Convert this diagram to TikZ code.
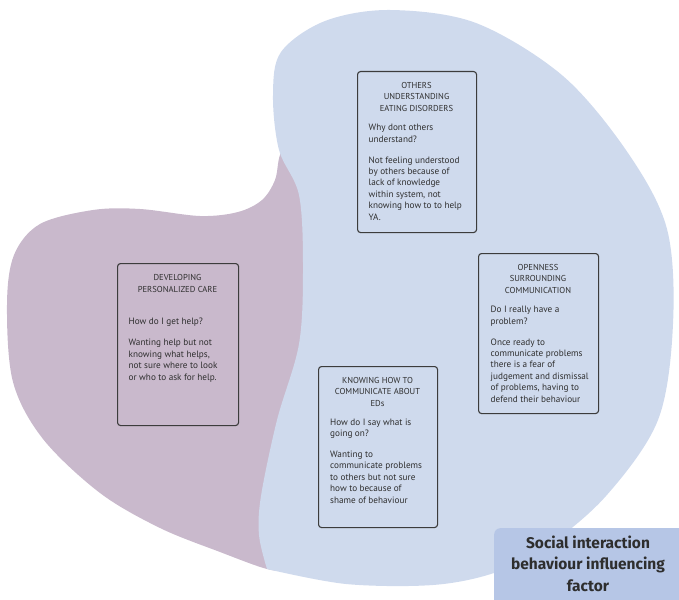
\documentclass[tikz,border=0pt]{standalone}
\usepackage{fontspec}
\setmainfont{PT Sans}
\newfontfamily\tagfont{Fira Sans}
\definecolor{blobblue}{HTML}{CFDAED}
\definecolor{blobmauve}{HTML}{C9B9CC}
\definecolor{tagblue}{HTML}{B6C6E6}
\definecolor{ink}{HTML}{2E2E2E}
\definecolor{edge}{HTML}{3C3C3C}
\begin{document}
\begin{tikzpicture}[x=1pt,y=-1pt,
  card/.style={draw=edge, line width=1.1pt, rounded corners=3pt, inner sep=0, anchor=north west},
  cardtitle/.style={font=\fontsize{8.6}{11.4}\selectfont, text=ink, align=center, inner sep=0, anchor=base},
  cardbody/.style={font=\fontsize{9.2}{11.4}\selectfont, text=ink, align=left, inner sep=0, anchor=base west},
  tagbox/.style={fill=tagblue, rounded corners=6pt, inner sep=0, anchor=north west, minimum width=200pt, minimum height=90pt},
  tagtext/.style={font=\tagfont\bfseries\fontsize{15.5}{21.5}\selectfont, text=ink, align=center, inner sep=0, anchor=base},
]
\useasboundingbox (0,0) rectangle (679,599);

% mauve region on the left, partly hidden by the blue one
\fill[blobmauve] plot[smooth cycle, tension=0.55] coordinates {
  (93,210) (140,209) (200,216) (238,212) (262,200) (275,180) (280,155)
  (292,135) (322,210) (326,330) (312,450) (296,560) (290,570) (267,569)
  (220,552) (160,528) (100,493) (43,439) (13,382) (7,305) (14,255) (40,224)};

% blue region, with a sharp corner where it meets the mauve one at the bottom
\fill[blobblue] plot[smooth, tension=0.55] coordinates {
  (267,569) (346,584) (433,585) (494,573) (545,548) (606,496) (658,420)
  (673,324) (667,229) (628,153) (563,76) (476,23) (390,10) (325,21)
  (281,52) (273,95) (279,150) (299,195) (303,267) (299,344) (277,420)
  (261,496) (259,535) (267,569)} -- cycle;

% cards
\node[card, minimum width=119pt, minimum height=161pt] (others) at (357,71) {};
\node[cardtitle] (others-t) at (416.5,111) {OTHERS\\UNDERSTANDING\\EATING DISORDERS};
\node[cardbody] (others-b) at (368.5,220) {Why dont others\\understand?\\[9.6pt]Not feeling understood\\by others because of\\lack of knowledge\\within system, not\\knowing how to to help\\YA.};

\node[card, minimum width=121pt, minimum height=162pt] (care) at (117,263) {};
\node[cardtitle] (care-t) at (177.5,292) {DEVELOPING\\PERSONALIZED CARE};
\node[cardbody] (care-b) at (128.5,380) {How do I get help?\\[9.6pt]Wanting help but not\\knowing what helps,\\not sure where to look\\or who to ask for help.};

\node[card, minimum width=120pt, minimum height=160pt] (open) at (478,253) {};
\node[cardtitle] (open-t) at (538,293) {OPENNESS\\SURROUNDING\\COMMUNICATION};
\node[cardbody] (open-b) at (490.5,402) {Do I really have a\\problem?\\[9.6pt]Once ready to\\communicate problems\\there is a fear of\\judgement and dismissal\\of problems, having to\\defend their behaviour};

\node[card, minimum width=119pt, minimum height=161pt] (know) at (318,366) {};
\node[cardtitle] (know-t) at (377.5,406) {KNOWING HOW TO\\COMMUNICATE ABOUT\\EDs};
\node[cardbody] (know-b) at (330,503) {How do I say what is\\going on?\\[9.6pt]Wanting to\\communicate problems\\to others but not sure\\how to because of\\shame of behaviour};

% factor label
\node[tagbox] (tag) at (494,528) {};
\node[tagtext] (tag-t) at (588,591) {Social interaction\\behaviour influencing\\factor};
\end{tikzpicture}
\end{document}
